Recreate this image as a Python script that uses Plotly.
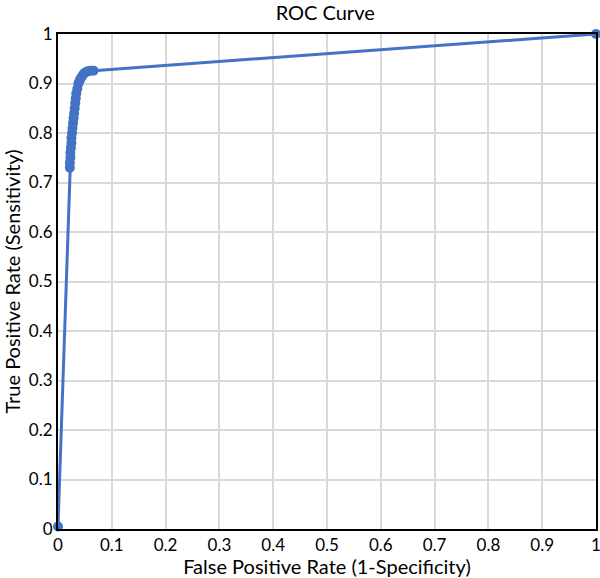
import plotly.graph_objects as go

# ROC curve points (false positive rate, true positive rate)
fpr = [0.0, 0.022, 0.022, 0.023, 0.023, 0.024, 0.025, 0.025, 0.026, 0.027, 0.028,
       0.029, 0.030, 0.031, 0.032, 0.033, 0.034, 0.036, 0.038, 0.040, 0.042,
       0.045, 0.048, 0.052, 0.056, 0.060, 0.066, 1.0]
tpr = [0.005, 0.73, 0.74, 0.75, 0.76, 0.77, 0.78, 0.79, 0.80, 0.81, 0.82,
       0.83, 0.84, 0.85, 0.86, 0.87, 0.88, 0.89, 0.90, 0.905, 0.91,
       0.915, 0.92, 0.923, 0.925, 0.926, 0.926, 1.0]

tick_vals = [0, 0.1, 0.2, 0.3, 0.4, 0.5, 0.6, 0.7, 0.8, 0.9, 1]
tick_text = ["0", "0.1", "0.2", "0.3", "0.4", "0.5", "0.6", "0.7", "0.8", "0.9", "1"]

color = "#4472C4"
font_family = "Lato, 'Open Sans', sans-serif"

fig = go.Figure(
    go.Scatter(
        x=fpr, y=tpr, mode="lines+markers",
        line=dict(color=color, width=3),
        marker=dict(color=color, size=10),
        cliponaxis=False,
        showlegend=False,
    )
)

axis_common = dict(
    range=[0, 1],
    tickvals=tick_vals,
    ticktext=tick_text,
    showgrid=True,
    gridcolor="#d9d9d9",
    gridwidth=1.5,
    showline=True,
    linecolor="black",
    linewidth=2,
    mirror=True,
    zeroline=False,
    ticks="",
    automargin=False,
    ticklabeloverflow="allow",
    tickfont=dict(size=17, color="black", family=font_family),
)

fig.update_layout(
    width=600, height=578,
    margin=dict(l=58, r=4, t=34, b=49, autoexpand=False),
    plot_bgcolor="white",
    paper_bgcolor="white",
    font=dict(family=font_family, color="black"),
    title=dict(text="ROC Curve", x=0.542, xanchor="center", y=1 - 13 / 578,
               yanchor="middle", yref="container", automargin=False,
               font=dict(size=20, color="black", family=font_family)),
    xaxis=dict(axis_common,
               title=dict(text="False Positive Rate (1-Specificity)", standoff=2,
                          font=dict(size=20, color="black", family=font_family))),
    yaxis=dict(axis_common,
               title=dict(text="True Positive Rate (Sensitivity)", standoff=4,
                          font=dict(size=20, color="black", family=font_family))),
)

fig.write_html(
    "out.html",
    config={"displayModeBar": False},
    post_script="document.body.style.margin='0px';document.body.style.overflow='hidden';",
)
